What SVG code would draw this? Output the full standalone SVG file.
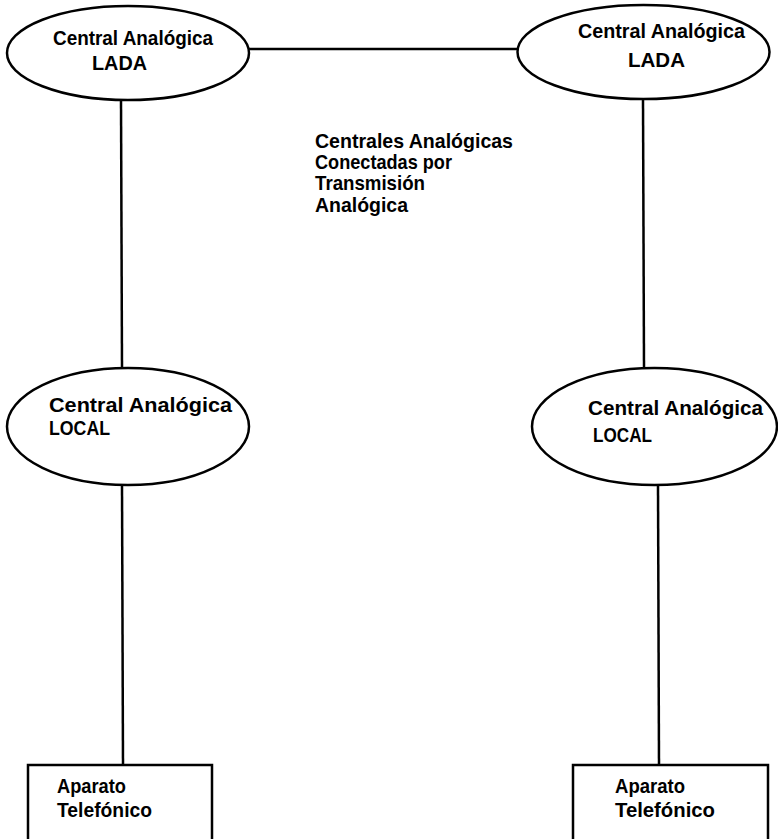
<svg xmlns="http://www.w3.org/2000/svg" width="778" height="839" viewBox="0 0 778 839">
<style>
.n{fill:none;stroke:#000;stroke-width:2.5}
.c{fill:none;stroke:#000;stroke-width:2.5}
text{font-family:"Liberation Sans",Arial,sans-serif;font-weight:bold;font-size:21px;fill:#000}
</style>
<rect width="778" height="839" fill="#fff"/>
<g id="connectors">
<line class="c" x1="249" y1="49" x2="518" y2="49"/>
<line class="c" x1="121" y1="100" x2="122" y2="368"/>
<line class="c" x1="643" y1="100" x2="644" y2="368"/>
<line class="c" x1="122" y1="485" x2="123" y2="765"/>
<line class="c" x1="658" y1="485" x2="659" y2="765"/>
</g>
<g id="lada-left">
<ellipse class="n" cx="128" cy="53" rx="121" ry="47"/>
<text x="53" y="45" textLength="160" lengthAdjust="spacingAndGlyphs">Central Analógica</text>
<text x="92" y="70" textLength="55" lengthAdjust="spacingAndGlyphs">LADA</text>
</g>
<g id="lada-right">
<ellipse class="n" cx="643.5" cy="52" rx="126" ry="47"/>
<text x="578" y="38" textLength="167" lengthAdjust="spacingAndGlyphs">Central Analógica</text>
<text x="628" y="67" textLength="57" lengthAdjust="spacingAndGlyphs">LADA</text>
</g>
<g id="label-center">
<text x="315" y="148" textLength="198" lengthAdjust="spacingAndGlyphs">Centrales Analógicas</text>
<text x="315" y="169" textLength="137" lengthAdjust="spacingAndGlyphs">Conectadas por</text>
<text x="315" y="190" textLength="110" lengthAdjust="spacingAndGlyphs">Transmisión</text>
<text x="315" y="212" textLength="93" lengthAdjust="spacingAndGlyphs">Analógica</text>
</g>
<g id="local-left">
<ellipse class="n" cx="128" cy="426.5" rx="121" ry="58.5"/>
<text x="49" y="412" textLength="183" lengthAdjust="spacingAndGlyphs">Central Analógica</text>
<text x="49" y="435" textLength="61" lengthAdjust="spacingAndGlyphs">LOCAL</text>
</g>
<g id="local-right">
<ellipse class="n" cx="654.5" cy="426.5" rx="122.5" ry="58.5"/>
<text x="588" y="415" textLength="175" lengthAdjust="spacingAndGlyphs">Central Analógica</text>
<text x="593" y="442" textLength="59" lengthAdjust="spacingAndGlyphs">LOCAL</text>
</g>
<g id="aparato-left">
<polyline class="n" points="28,845 28,765 212,765 212,845"/>
<text x="57" y="793" textLength="69" lengthAdjust="spacingAndGlyphs">Aparato</text>
<text x="57" y="817" textLength="95" lengthAdjust="spacingAndGlyphs">Telefónico</text>
</g>
<g id="aparato-right">
<polyline class="n" points="573,845 573,765 768,765 768,845"/>
<text x="615" y="793" textLength="70" lengthAdjust="spacingAndGlyphs">Aparato</text>
<text x="615" y="817" textLength="100" lengthAdjust="spacingAndGlyphs">Telefónico</text>
</g>
</svg>
